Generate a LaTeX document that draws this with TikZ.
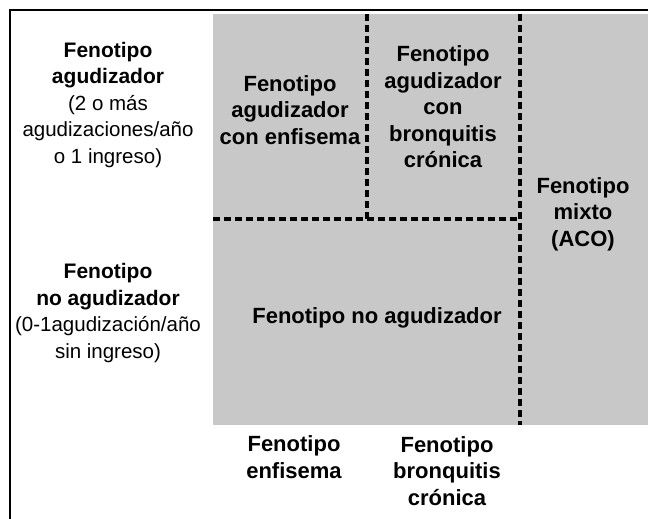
\documentclass[tikz,border=0pt]{standalone}
\usepackage{fontspec}
\setmainfont{Liberation Sans}
\definecolor{cellgray}{RGB}{200,200,200}
\begin{document}
\begin{tikzpicture}[x=1pt,y=-1pt,
  lbl/.style={align=center, font=\fontsize{22}{26.5}\selectfont\bfseries, inner sep=0pt},
  side/.style={align=center, font=\fontsize{20.5}{26.5}\selectfont, inner sep=0pt},
  divider/.style={line width=3.5pt, dash pattern=on 7pt off 4pt},
  frame/.style={line width=2pt}]
\useasboundingbox (0,0) rectangle (648,519);
% frame
\coordinate (fbl) at (10,519);
\coordinate (ftl) at (10,10);
\coordinate (ftr) at (648,10);
\draw[frame] (fbl) -- (ftl) -- (ftr);
% gray area
\coordinate (gtl) at (213,14);
\coordinate (gbr) at (648,425);
\fill[cellgray] (gtl) rectangle (gbr);
% dividers
\coordinate (v1t) at (367,14);
\coordinate (v1b) at (367,219);
\coordinate (hl) at (213,219);
\coordinate (hr) at (520,219);
\coordinate (v2t) at (520,14);
\coordinate (v2b) at (520,425);
\draw[divider] (v1t) -- (v1b);
\draw[divider] (hl) -- (hr);
\draw[divider] (v2t) -- (v2b);
% left labels
\node[side] (agud) at (108,105) {\textbf{\fontsize{21}{26.5}\selectfont Fenotipo}\\\textbf{\fontsize{21}{26.5}\selectfont agudizador}\\(2 o más\\agudizaciones/año\\o 1 ingreso)};
\node[side] (noagud) at (108,313) {\textbf{\fontsize{21}{26.5}\selectfont Fenotipo}\\\textbf{\fontsize{21}{26.5}\selectfont no agudizador}\\(0-1agudización/año\\sin ingreso)};
% cells
\node[lbl] (agenf) at (290,110) {Fenotipo\\agudizador\\con enfisema};
\node[lbl] (agbron) at (443,107) {Fenotipo\\agudizador\\con\\bronquitis\\crónica};
\node[lbl] (mixto) at (583,214) {Fenotipo\\mixto\\(ACO)};
\node[lbl] (noag) at (377,318) {Fenotipo no agudizador};
% bottom labels
\node[lbl] (enf) at (294,457) {Fenotipo\\enfisema};
\node[lbl] (bron) at (447,471) {Fenotipo\\bronquitis\\crónica};
\end{tikzpicture}
\end{document}
